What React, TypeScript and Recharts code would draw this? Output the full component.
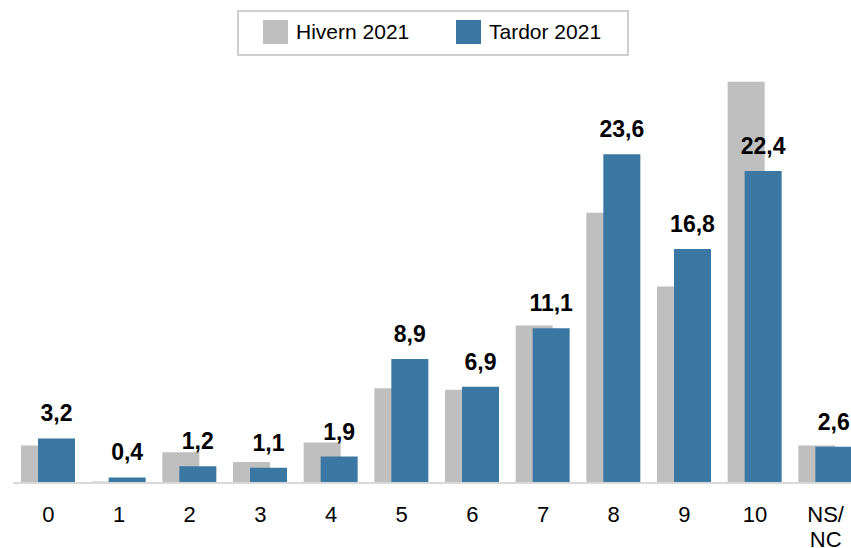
import { BarChart, Bar, XAxis, YAxis, Legend, LabelList } from 'recharts';

const categories = ['0', '1', '2', '3', '4', '5', '6', '7', '8', '9', '10', 'NS/NC'];
const hivern2021 = [2.7, 0.1, 2.2, 1.5, 2.9, 6.8, 6.7, 11.3, 19.4, 14.1, 28.8, 2.7];
const tardor2021 = [3.2, 0.4, 1.2, 1.1, 1.9, 8.9, 6.9, 11.1, 23.6, 16.8, 22.4, 2.6];

const data = categories.map((c, i) => ({ cat: c, hivern: hivern2021[i], tardor: tardor2021[i] }));

const FONT = 'Arial, "Liberation Sans", Helvetica, sans-serif';
const GREY = '#bfbfbf';
const BLUE = '#3a77a2';

function formatComma(v: number | string): string {
  return Number(v).toFixed(1).replace('.', ',');
}

// splits "NS/NC" over two lines like the original
function CategoryTick({ x, y, payload }: { x?: number; y?: number; payload?: { value: string } }) {
  const value = payload?.value ?? '';
  const cut = value.indexOf('/');
  const lines = cut >= 0 ? [value.slice(0, cut + 1), value.slice(cut + 1)] : [value];
  return (
    <text x={x} y={(y ?? 0) + 31} textAnchor="middle" fill="#000" fontSize={22} fontFamily={FONT}>
      {lines.map((l, i) => (
        <tspan key={i} x={x} dy={i === 0 ? 0 : 25}>
          {l}
        </tspan>
      ))}
    </text>
  );
}

function LegendBox() {
  const item = (color: string, label: string, left: number) => (
    <div style={{ position: 'absolute', left, top: 8, display: 'flex', alignItems: 'center' }}>
      <span style={{ display: 'inline-block', width: 25, height: 24, background: color }} />
      <span style={{ marginLeft: 8, fontSize: 21, color: '#000', lineHeight: '24px' }}>{label}</span>
    </div>
  );
  return (
    <div
      style={{
        position: 'relative',
        width: 392,
        height: 46,
        boxSizing: 'border-box',
        border: '2px solid #cfcfcf',
        fontFamily: FONT,
      }}
    >
      {item(GREY, 'Hivern 2021', 24)}
      {item(BLUE, 'Tardor 2021', 217)}
    </div>
  );
}

export default function App() {
  return (
    <div style={{ width: 851, height: 548, overflow: 'hidden' }}>
      <style>{'body { margin: 0; overflow: hidden; }'}</style>
      <BarChart
        width={851}
        height={548}
        data={data}
        margin={{ top: 19, right: -10, bottom: 5, left: 13 }}
        barSize={37}
        barGap={-20}
      >
        <Legend
          verticalAlign="top"
          align="left"
          content={() => <LegendBox />}
          wrapperStyle={{ top: 10, left: 237, width: 392, height: 46 }}
        />
        <XAxis
          dataKey="cat"
          interval={0}
          height={60}
          tickLine={false}
          axisLine={{ stroke: '#d9d9d9', strokeWidth: 2 }}
          tick={<CategoryTick />}
        />
        <YAxis hide domain={[0, 30]} />
        <Bar dataKey="hivern" fill={GREY} isAnimationActive={false} />
        <Bar dataKey="tardor" fill={BLUE} isAnimationActive={false}>
          <LabelList
            dataKey="tardor"
            position="top"
            offset={17}
            formatter={formatComma}
            fill="#000"
            fontSize={23}
            fontWeight="bold"
            fontFamily={FONT}
          />
        </Bar>
      </BarChart>
    </div>
  );
}
